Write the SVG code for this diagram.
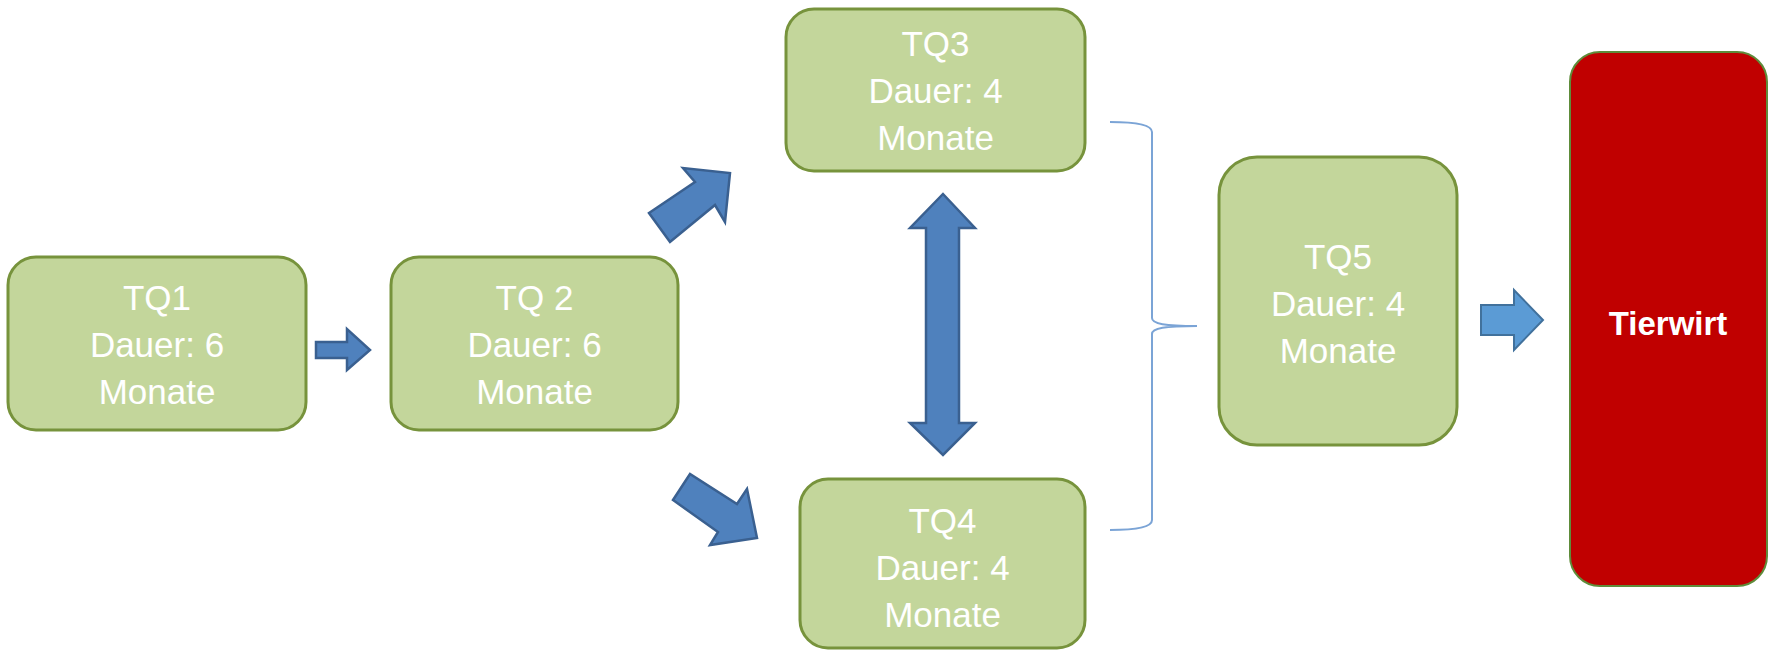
<svg xmlns="http://www.w3.org/2000/svg" width="1769" height="651" viewBox="0 0 1769 651">
<style>
.box{fill:#C3D69B;stroke:#77933C;stroke-width:3}
.lbl{font-family:"Liberation Sans",Arial,sans-serif;font-size:35px;fill:#FFFFFF;text-anchor:middle}
.arr{fill:#4F81BD;stroke:#3A6090;stroke-width:2.5;stroke-linejoin:miter}
.arr2{fill:#5B9BD5;stroke:#41719C;stroke-width:2}
.brace{fill:none;stroke:#7BA4D6;stroke-width:2}
</style>
<rect width="1769" height="651" fill="#FFFFFF"/>
<g id="connectors">
<polygon class="arr" points="316,342 347,342 347,329 370,350 347,370 347,358 316,358"/>
<polygon class="arr" points="649,213 695,182 683,168 730,173 725,222 715,205 670,242"/>
<polygon class="arr" points="673,500 690,474 737,504 747,489 757,538 710,545 718,532"/>
<polygon class="arr" points="943,194 975,228 959,228 959,423 975,423 943,455 910,423 926,423 926,228 910,228"/>
<path class="brace" d="M1110,122 C1132,122 1152,124 1152,132 L1152,318 C1152,324 1165,326 1197,326 C1165,326 1152,328 1152,334 L1152,520 C1152,528 1132,530 1110,530"/>
<polygon class="arr2" points="1481,305 1514,305 1514,290 1543,320 1514,350 1514,335 1481,335"/>
</g>
<g id="TQ1">
<rect class="box" x="8" y="257" width="298" height="173" rx="28"/>
<text class="lbl" x="157" y="310">TQ1</text>
<text class="lbl" x="157" y="357">Dauer: 6</text>
<text class="lbl" x="157" y="404">Monate</text>
</g>
<g id="TQ2">
<rect class="box" x="391" y="257" width="287" height="173" rx="28"/>
<text class="lbl" x="534.5" y="310">TQ 2</text>
<text class="lbl" x="534.5" y="357">Dauer: 6</text>
<text class="lbl" x="534.5" y="404">Monate</text>
</g>
<g id="TQ3">
<rect class="box" x="786" y="9" width="299" height="162" rx="28"/>
<text class="lbl" x="935.5" y="56">TQ3</text>
<text class="lbl" x="935.5" y="103">Dauer: 4</text>
<text class="lbl" x="935.5" y="150">Monate</text>
</g>
<g id="TQ4">
<rect class="box" x="800" y="479" width="285" height="169" rx="28"/>
<text class="lbl" x="942.5" y="533">TQ4</text>
<text class="lbl" x="942.5" y="580">Dauer: 4</text>
<text class="lbl" x="942.5" y="627">Monate</text>
</g>
<g id="TQ5">
<rect class="box" x="1219" y="157" width="238" height="288" rx="38"/>
<text class="lbl" x="1338" y="269">TQ5</text>
<text class="lbl" x="1338" y="316">Dauer: 4</text>
<text class="lbl" x="1338" y="363">Monate</text>
</g>
<g id="Tierwirt">
<rect x="1570" y="52" width="197" height="534" rx="30" fill="#C00000" stroke="#5E8C3A" stroke-width="2"/>
<text x="1668" y="335" font-family="'Liberation Sans',Arial,sans-serif" font-size="33" font-weight="bold" fill="#FFFFFF" text-anchor="middle">Tierwirt</text>
</g>
</svg>
